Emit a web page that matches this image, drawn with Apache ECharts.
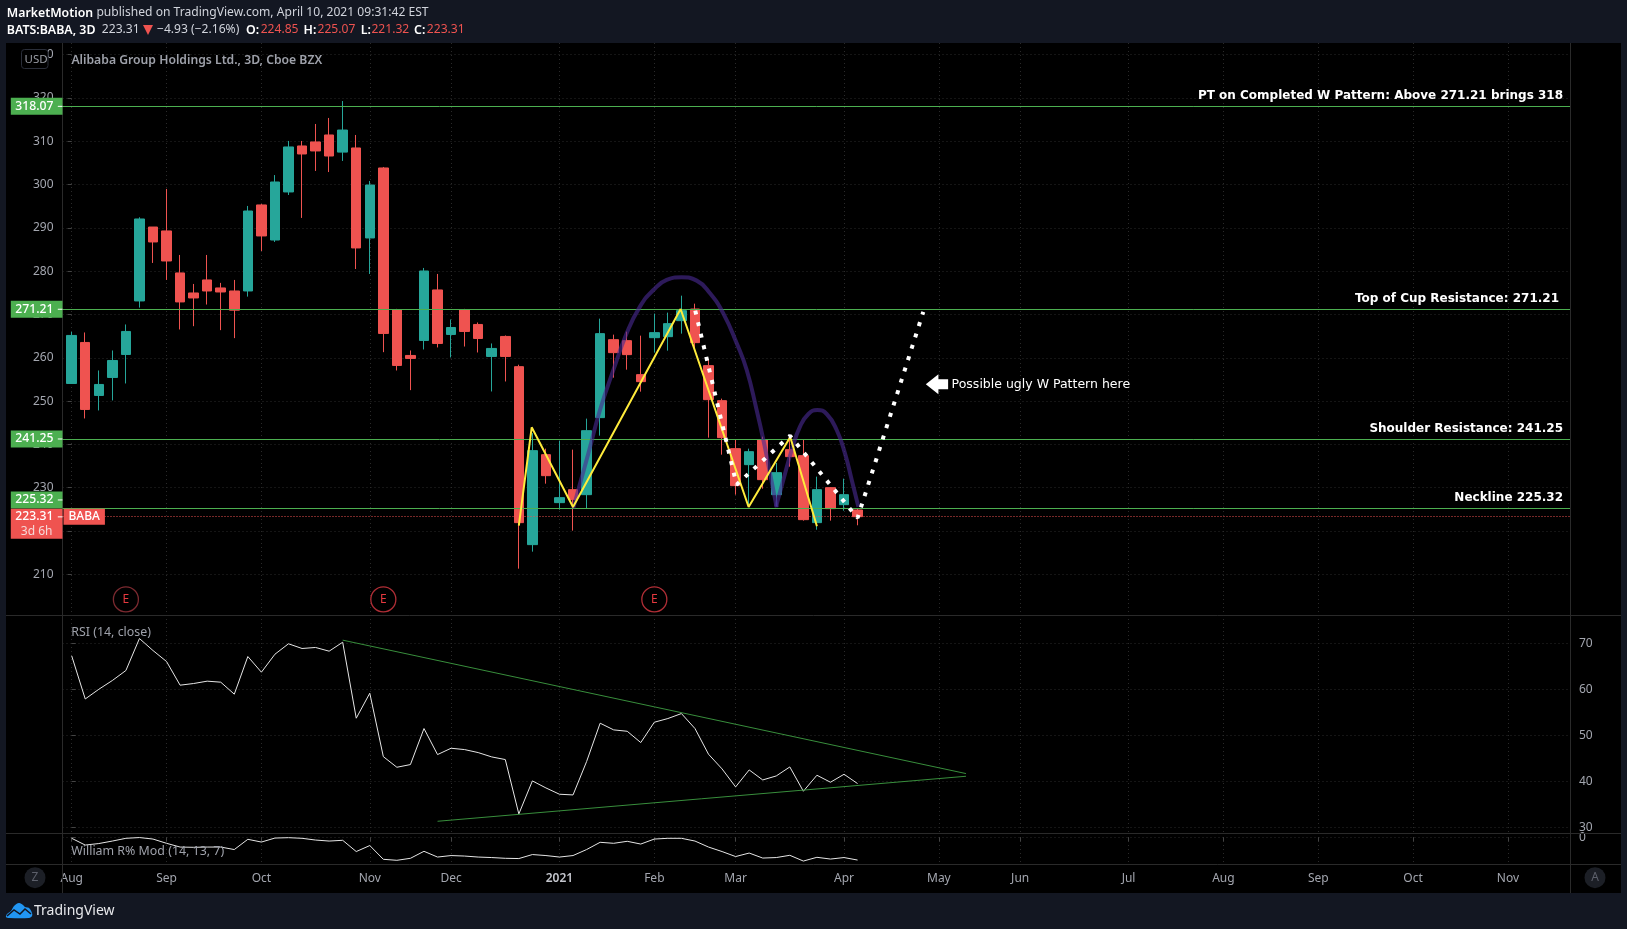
<!DOCTYPE html>
<html><head><meta charset="utf-8"><title>BABA 3D</title>
<style>html,body{margin:0;padding:0;background:#131722;overflow:hidden}#c{width:1627px;height:929px}</style>
<script src="https://cdn.jsdelivr.net/npm/echarts@6/dist/echarts.min.js"></script></head>
<body><div id="c"></div><script>
const openPrices=[254.07,263.54,251.3,255.46,260.77,273.13,290.2,289.3,279.6,274.97,277.98,276.13,275.43,275.43,295.3,287.2,298.3,308.92,309.85,311.46,307.5,308.46,287.67,303.84,271.1,260.54,264.0,275.67,265.39,271.05,267.7,260.31,264.93,257.95,216.85,237.63,226.55,229.55,228.39,246.18,264.19,263.96,256.11,264.65,264.88,268.58,271.27,258.19,250.1,239.02,235.32,241.1,228.39,238.79,237.4,221.93,230.01,226.08,224.85];
const closePrices=[265.16,248.07,253.84,259.38,266.08,292.06,286.75,282.36,272.9,273.82,275.43,275.2,271.0,293.9,288.14,300.6,308.69,307.07,307.77,306.6,312.6,285.37,299.9,265.62,258.23,259.85,280.05,263.31,267.0,266.08,264.46,262.16,260.31,221.93,238.56,232.78,227.7,227.24,243.17,265.58,261.19,260.73,254.49,265.81,267.89,270.89,263.5,250.33,241.56,230.47,238.32,231.86,233.47,237.17,222.62,229.55,225.16,228.39,223.31];
const lowPrices=[254.07,245.99,247.84,250.15,254.07,271.59,281.9,277.98,266.54,267.3,272.3,266.39,264.54,274.13,284.67,286.75,297.6,292.3,303.15,302.9,305.46,280.5,279.36,261.3,257.07,252.53,261.92,262.39,260.08,262.6,261.23,252.22,254.53,211.3,215.23,230.93,224.93,220.08,225.16,242.02,255.41,257.26,252.18,261.19,261.65,265.58,262.27,241.56,237.63,228.39,225.7,229.78,225.7,234.86,222.39,220.3,222.39,224.7,221.32];
const highPrices=[266.0,265.85,257.07,261.69,267.7,292.45,290.2,299.0,283.75,277.05,283.75,277.3,277.98,295.07,295.53,302.2,310.08,310.08,314.0,315.39,319.3,311.46,300.84,304.07,271.3,261.69,280.75,279.36,268.85,271.3,268.16,263.31,265.16,258.4,242.6,239.02,240.87,238.79,245.95,269.04,265.35,266.04,265.11,270.2,270.43,274.35,272.5,259.57,250.57,241.1,239.02,241.79,235.7,241.87,241.1,232.55,230.1,232.09,225.07];
const rsiValues=[67.25,57.9,60.0,61.9,64.07,71.0,68.4,66.02,60.89,61.25,61.76,61.54,58.94,67.1,63.7,67.6,69.86,68.84,69.06,68.26,70.2,53.73,59.15,45.4,43.1,43.68,51.49,45.85,47.22,46.93,46.28,45.34,44.77,32.98,40.14,38.62,37.25,37.1,44.33,52.65,51.2,50.9,48.45,52.86,53.66,54.74,51.49,45.92,42.74,38.84,42.52,40.35,41.22,43.17,37.9,41.37,39.85,41.58,39.56];
const willValues=[-4,-31,-25,-15,-4,-1,-7,-24,-39,-40,-39,-39,-49,-8,-19,-3,-1.5,-4,-11,-15,-12,-57,-33,-88,-92,-84,-56,-79,-73,-75,-79,-81,-84,-85,-69,-73,-79,-73,-49,-20,-24,-16,-27,-7,-4,-4,-15,-39,-57,-77,-63,-83,-81,-72,-95,-80,-87,-81,-91];
const tickBars=[0,7,14,22,28,36,43,49,57,64,70,78,85,92,99,106];
const tickNames=['Aug','Sep','Oct','Nov','Dec','2021','Feb','Mar','Apr','May','Jun','Jul','Aug','Sep','Oct','Nov'];
const priceTicks=[210,220,230,240,250,260,270,280,290,300,310,320,330];
const rsiTicks=[30,40,50,60,70];
const levels=[318.07,271.21,241.25,225.32];
const levelNotes=['PT on Completed W Pattern: Above 271.21 brings 318','Top of Cup Resistance: 271.21','Shoulder Resistance: 241.25','Neckline 225.32'];
const noteGaps=[3,7,3,3];
const boxShift=[0,0,0,-8];
const lastPrice=223.31;
const earningsBars=[4,23,43];
const earningsLevel=204.2;
const wBars=[33,33.95,37,44.94,49.96,53.03,55];
const wPrices=[221.23,243.94,225.55,271.27,225.55,241.71,221.08];
const cupBars=[37.02,37.52,38.2,38.99,39.98,40.96,41.94,42.93,43.91,45.02,46.13,47.11,48.09,49.08,49.82,50.55,51.05,51.54,52.03];
const cupPrices=[225.24,231,238.7,247.95,257.19,265.65,271.81,275.66,277.97,278.59,277.82,274.89,270.27,263.34,257.19,247.95,241.02,233.32,225.47];
const bumpBars=[51.98,52.52,53.14,53.75,54.37,55.03,55.72,56.46,57.07,57.57,58.06];
const bumpPrices=[225.62,231.77,238.7,244.09,247.02,247.94,247.02,243.32,237.93,231.77,225.62];
const pathBars=[46.02,49.07,53.01,58,62.85];
const pathPrices=[270.9,230.7,242,223,270.6];
const rsiUpperBars=[20,66], rsiUpperVals=[70.65,41.73];
const rsiLowerBars=[27,66], rsiLowerVals=[31.39,41.15];
const noteBar=63.86, notePrice=253.88;

const GREEN='#4CAF50',RED='#EF5350',TEAL='#26A69A',GRID='#2a2a2a',LBL='#a3a6af';
const FONT='"Noto Sans",sans-serif';
const zip=(a,b)=>a.map((v,i)=>[v,b[i]]);
const xMin=-0.679,xMax=110.58;
const seq=a=>a.map((v,i)=>[i,v]);
const gridStyle={show:true,lineStyle:{color:GRID,type:[1,3],width:1}};
const vAxis=(idx,extra)=>Object.assign({type:'value',gridIndex:idx,min:xMin,max:xMax,
  axisLine:{show:false},axisLabel:{show:false},
  axisTick:{show:false,customValues:tickBars},
  splitLine:gridStyle},extra||{});
const yBase=(idx,pos,ticks,min,max)=>({type:'value',gridIndex:idx,position:pos,min,max,scale:true,
  axisLine:{show:false},
  axisTick:{show:true,length:4,inside:false,lineStyle:{color:'#444'},customValues:ticks},
  axisLabel:{color:LBL,fontFamily:FONT,fontSize:12,margin:9,customValues:ticks,showMinLabel:true,showMaxLabel:true},
  splitLine:gridStyle});
const boxLine=(v,i)=>({yAxis:v,lineStyle:{color:GREEN,width:1,type:'solid',opacity:1},
  label:{show:true,position:'start',distance:0,offset:[0,boxShift[i]],padding:[1.5,0,1.5,0],formatter:'{a|'+v.toFixed(2)+'}{t| }',backgroundColor:GREEN,
    rich:{a:{width:47,height:14,lineHeight:14,align:'center',color:'#fff',fontFamily:FONT,fontSize:12.2,fontWeight:500},
          t:{width:4.7,height:1,backgroundColor:'#fff'}}}});
const noteLine=(v,i)=>({yAxis:v,lineStyle:{color:'rgba(0,0,0,0)',width:0},
  label:{show:true,position:'insideEndTop',distance:4,offset:[-noteGaps[i],0],formatter:levelNotes[i],color:'#fff',opacity:1,
    fontFamily:'"DejaVu Sans",sans-serif',fontWeight:'bold',fontSize:12}});
const txt=(x,y,s,c,w,sz,ff)=>({type:'text',x,y,z:70,style:{text:s,fill:c,fontFamily:ff||FONT,fontWeight:w||'normal',fontSize:sz||13,verticalAlign:'middle'}});
const ln=(x1,y1,x2,y2,c)=>({type:'line',z:1,shape:{x1,y1,x2,y2},style:{stroke:c||'#2a2a2a',lineWidth:1}});

const graphics=[
 {type:'rect',z:-10,shape:{x:6,y:43,width:1615,height:850},style:{fill:'#000'}},
 ln(6,615.5,1621,615.5),ln(6,833.5,1621,833.5),ln(6,864.5,1621,864.5),
 ln(62.5,43,62.5,893),ln(1570.5,43,1570.5,893),
 {type:'rect',z:60,shape:{x:21.5,y:49.5,width:26.5,height:19,r:3},style:{fill:'#000',stroke:'#2a2e39',lineWidth:1}},
 txt(24.5,60,'USD','#9a9da5','normal',11.5),
 {type:'text',x:71.4,y:61,z:50,style:{text:'Alibaba Group Holdings Ltd., 3D, Cboe BZX',fill:'#9ea1aa',fontFamily:FONT,fontWeight:600,fontSize:12.2,verticalAlign:'middle'}},
 txt(71.3,632,'RSI (14, close)','#9ea1aa','normal',12.4),
 txt(71.3,851,'William R% Mod (14, 13, 7)','#9ea1aa','normal',12.4),
 txt(6.8,13,'MarketMotion','#fff',600,12.3),
 txt(96.4,13,'published on TradingView.com, April 10, 2021 09:31:42 EST','#d1d4dc','normal',12.1),
 txt(6.8,30,'BATS:BABA, 3D','#fff',600,12.4),
 txt(101.8,30,'223.31','#d1d4dc','normal',12.1),
 {type:'polygon',z:50,shape:{points:[[143,25],[153,25],[148,35]]},style:{fill:RED}},
 txt(157,30,'\u22124.93 (\u22122.16%)','#d1d4dc','normal',12.1),
 txt(246,30,'O:','#fff',600,12.4),txt(260.7,30,'224.85',RED,'normal',12.1),
 txt(303.6,30,'H:','#fff',600,12.4),txt(317.5,30,'225.07',RED,'normal',12.1),
 txt(360.7,30,'L:','#fff',600,12.4),txt(371.4,30,'221.32',RED,'normal',12.1),
 txt(414,30,'C:','#fff',600,12.4),txt(426.8,30,'223.31',RED,'normal',12.1),
 {type:'circle',z:50,shape:{cx:35,cy:877.7,r:10.5},style:{fill:'#1c1f26'}},
 {type:'text',z:51,x:35,y:877.7,style:{text:'Z',fill:'#5d606b',fontFamily:FONT,fontSize:12,align:'center',verticalAlign:'middle'}},
 {type:'circle',z:50,shape:{cx:1595,cy:877.7,r:10.5},style:{fill:'#1c1f26'}},
 {type:'text',z:51,x:1595,y:877.7,style:{text:'A',fill:'#5d606b',fontFamily:FONT,fontSize:12,align:'center',verticalAlign:'middle'}},
 {type:'polygon',z:50,x:6,y:903,shape:{smooth:0.35,points:[[0,14],[1,11],[5,8],[8,3],[13,0],[17,2],[19,4],[23,5],[26,10],[26,13],[23,15],[3,15]]},style:{fill:'#2196F3'}},
 {type:'polyline',z:51,x:6,y:903,shape:{points:[[1,13],[8,7],[14,11],[19,6],[25,11]]},style:{stroke:'#131722',lineWidth:1.5,fill:null}},
 txt(34,911,'TradingView','#e8e9ec','normal',14)
];

const option={
 animation:false,backgroundColor:'#131722',
 graphic:{elements:graphics},
 grid:[{left:62.5,right:57,top:43,height:572},{left:62.5,right:57,top:615,height:218},{left:62.5,right:57,top:833,height:31}],
 xAxis:[vAxis(0),vAxis(1),vAxis(2,{axisLabel:{show:true,color:LBL,fontFamily:FONT,fontSize:12,margin:9,customValues:tickBars,
   formatter:v=>{const k=tickBars.indexOf(Math.round(v));const n=k<0?'':tickNames[k];return n==='2021'?'{y|2021}':n;},
   rich:{y:{fontFamily:FONT,fontSize:12,fontWeight:600,color:'#c4c6cd'}}},
   axisTick:{show:true,length:4,lineStyle:{color:'#444'},customValues:tickBars}})],
 yAxis:[yBase(0,'left',priceTicks,200.6,332.7),yBase(1,'right',rsiTicks,28.85,76.1),yBase(2,'right',[0],-106.8,17.2)],
 series:[
  {type:'candlestick',xAxisIndex:0,yAxisIndex:0,encode:{x:0,y:[1,2,3,4]},barWidth:10,z:2,
   data:openPrices.map((o,i)=>[i,o,closePrices[i],lowPrices[i],highPrices[i]]),
   itemStyle:{color:TEAL,color0:RED,borderColor:TEAL,borderColor0:RED,borderWidth:1}},
  {type:'line',xAxisIndex:0,yAxisIndex:0,data:[],z:3,silent:true,markLine:{silent:true,symbol:'none',animation:false,z:3,
    data:[...levels.map(boxLine),...levels.map(noteLine),
     {yAxis:lastPrice,lineStyle:{color:RED,width:1,type:[1,2]},
      label:{show:true,position:'start',distance:0,offset:[0,7.2],formatter:'{a|223.31}{t| }\n{b|3d 6h}',backgroundColor:RED,
       rich:{a:{width:47,height:16,lineHeight:16,align:'center',color:'#fff',fontFamily:FONT,fontSize:12.2,fontWeight:500},
        t:{width:4.7,height:1,backgroundColor:'#fff'},
        b:{width:51.7,height:14,lineHeight:14,align:'center',color:'#f6d9d8',fontFamily:FONT,fontSize:12}}}},
     {yAxis:lastPrice,lineStyle:{color:'rgba(0,0,0,0)',width:0},
      label:{show:true,position:'insideStart',distance:1,formatter:'BABA',backgroundColor:RED,color:'#fff',fontFamily:FONT,fontSize:12,fontWeight:500,padding:[2,5,2,5]}}
    ]}},
  {type:'line',name:'Cup',xAxisIndex:0,yAxisIndex:0,data:zip(cupBars,cupPrices),smooth:true,symbol:'none',z:4,lineStyle:{color:'rgba(72,42,145,0.62)',width:4}},
  {type:'line',name:'Handle',xAxisIndex:0,yAxisIndex:0,data:zip(bumpBars,bumpPrices),smooth:true,symbol:'none',z:4,lineStyle:{color:'rgba(72,42,145,0.62)',width:4}},
  {type:'line',name:'W',xAxisIndex:0,yAxisIndex:0,data:zip(wBars,wPrices),symbol:'none',z:5,lineStyle:{color:'#FFEB3B',width:2}},
  {type:'line',name:'Path',xAxisIndex:0,yAxisIndex:0,data:zip(pathBars,pathPrices),symbol:'none',z:6,lineStyle:{color:'#fff',width:4,type:[4,7.9]}},
  {type:'scatter',name:'Earnings',xAxisIndex:0,yAxisIndex:0,data:earningsBars.map((b,i)=>({value:[b,earningsLevel],itemStyle:{borderColor:i===0?'#7c2a30':'#b02e36'}})),symbol:'circle',symbolSize:25,z:6,
   itemStyle:{color:'#000',borderWidth:1.3,opacity:1},label:{show:true,position:'inside',formatter:'E',color:'#e5393f',fontFamily:FONT,fontSize:12}},
  {type:'scatter',name:'Note',xAxisIndex:0,yAxisIndex:0,data:[[noteBar,notePrice]],z:6,
   symbol:'path://M0 10 L12.6 0 L12.6 5 L22.3 5 L22.3 15 L12.6 15 L12.6 20 Z',symbolSize:[22.3,20],itemStyle:{color:'#fff',opacity:1},
   label:{show:true,position:'right',distance:3.5,formatter:'Possible ugly W Pattern here',color:'#fff',fontFamily:'"DejaVu Sans",sans-serif',fontSize:12.5}},
  {type:'line',name:'RSI',xAxisIndex:1,yAxisIndex:1,data:seq(rsiValues),symbol:'none',z:3,lineStyle:{color:'#e6e6e6',width:1}},
  {type:'line',xAxisIndex:1,yAxisIndex:1,data:zip(rsiUpperBars,rsiUpperVals),symbol:'none',z:4,lineStyle:{color:'#388E3C',width:1}},
  {type:'line',xAxisIndex:1,yAxisIndex:1,data:zip(rsiLowerBars,rsiLowerVals),symbol:'none',z:4,lineStyle:{color:'#388E3C',width:1}},
  {type:'line',name:'Williams',xAxisIndex:2,yAxisIndex:2,data:seq(willValues),symbol:'none',z:3,lineStyle:{color:'#e6e6e6',width:1}}
 ]
};
const chart=echarts.init(document.getElementById('c'),null,{renderer:'canvas',width:1627,height:929});
chart.setOption(option);
</script></body></html>
